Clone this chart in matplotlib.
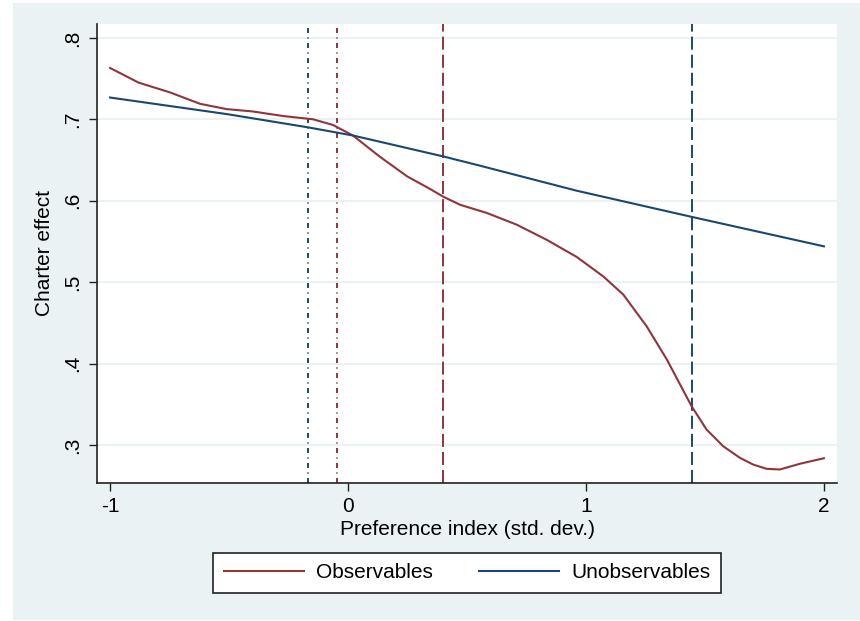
import matplotlib
matplotlib.use("Agg")
import matplotlib.pyplot as plt
from matplotlib.patches import Rectangle
import numpy as np

plt.rcParams['font.family'] = ['Liberation Sans', 'DejaVu Sans']

# Data
obs_x = [-1.0, -0.88, -0.748, -0.622, -0.51, -0.40, -0.273, -0.147, -0.063, 0.021,
         0.134, 0.248, 0.345, 0.40, 0.471, 0.583, 0.709, 0.835, 0.961, 1.073,
         1.157, 1.255, 1.34, 1.444, 1.507, 1.577, 1.647, 1.703, 1.759, 1.815,
         1.899, 2.0]
obs_y = [0.763, 0.745, 0.733, 0.719, 0.7125, 0.7096, 0.704, 0.700, 0.693, 0.680,
         0.654, 0.630, 0.6144, 0.605, 0.595, 0.585, 0.5706, 0.552, 0.531, 0.507,
         0.4847, 0.4458, 0.405, 0.3476, 0.319, 0.2985, 0.2843, 0.276, 0.2708, 0.270,
         0.277, 0.2838]

unobs_x = [-1.0, -0.51, -0.166, 0.022, 0.40, 0.555, 0.961, 1.447, 2.0]
unobs_y = [0.7267, 0.7064, 0.690, 0.680, 0.6544, 0.643, 0.6123, 0.580, 0.544]

# Reference lines (x positions)
vline_unobs_mean = -0.168
vline_obs_mean = -0.046
vline_obs_cut = 0.40
vline_unobs_cut = 1.445

x_ticks = [-1, 0, 1, 2]
x_ticklabels = ["-1", "0", "1", "2"]
y_ticks = [0.3, 0.4, 0.5, 0.6, 0.7, 0.8]
y_ticklabels = [".3", ".4", ".5", ".6", ".7", ".8"]

maroon = "#90353B"
navy = "#1A476F"
bg = "#EAF2F3"

fig = plt.figure(figsize=(8.6, 6.21), dpi=100, facecolor="white")

# Stata-like graph region
fig.patches.append(Rectangle((13 / 860, 1 / 621), 847 / 860, 617 / 621,
                             transform=fig.transFigure, facecolor=bg,
                             edgecolor="none", zorder=-10))

ax = fig.add_axes([97 / 860, 1 - 483 / 621, 740 / 860, 459 / 621])
ax.set_facecolor("white")

ax.set_xlim(-1.055, 2.055)
ax.set_ylim(0.2534, 0.817)

for y in y_ticks:
    ax.axhline(y, color=bg, lw=1.4, zorder=1)

vlw = 1.4
dashdot = (0, (3.6 / vlw, 3.2 / vlw, 0.8 / vlw, 3.2 / vlw))
longdash = (0, (9.4 / vlw, 3.6 / vlw))
ax.axvline(vline_unobs_mean, color=navy, lw=vlw, linestyle=dashdot, zorder=2)
ax.axvline(vline_obs_mean, color=maroon, lw=vlw, linestyle=dashdot, zorder=2)
ax.axvline(vline_obs_cut, color=maroon, lw=vlw, linestyle=longdash, zorder=2)
ax.axvline(vline_unobs_cut, color=navy, lw=vlw, linestyle=longdash, zorder=2)

ax.plot(obs_x, obs_y, color=maroon, lw=1.5, label="Observables", zorder=3)
ax.plot(unobs_x, unobs_y, color=navy, lw=1.5, label="Unobservables", zorder=3)

ax.spines["top"].set_visible(False)
ax.spines["right"].set_visible(False)
for s in ["left", "bottom"]:
    ax.spines[s].set_color("#222222")
    ax.spines[s].set_linewidth(1.2)

ax.set_xticks(x_ticks)
ax.set_xticklabels(x_ticklabels)
ax.set_yticks(y_ticks)
ax.set_yticklabels(y_ticklabels, rotation=90, va="center")
ax.tick_params(axis="both", labelsize=15, length=6, width=1.0, color="#222222", pad=4)
ax.tick_params(axis="y", pad=5)

ax.set_xlabel("Preference index (std. dev.)", fontsize=15, labelpad=3)
ax.set_ylabel("Charter effect", fontsize=15, labelpad=6)

leg = fig.legend(loc="center", bbox_to_anchor=(467 / 860, 1 - 573 / 621),
                 ncol=2, fontsize=15, frameon=True, fancybox=False,
                 handlelength=3.84, handletextpad=0.6, columnspacing=2.2,
                 borderpad=0.5, borderaxespad=0, framealpha=1)
leg.get_frame().set_edgecolor("#222222")
leg.get_frame().set_facecolor("white")
leg.get_frame().set_linewidth(1.2)

fig.savefig("out.png", dpi=100, facecolor="white")
